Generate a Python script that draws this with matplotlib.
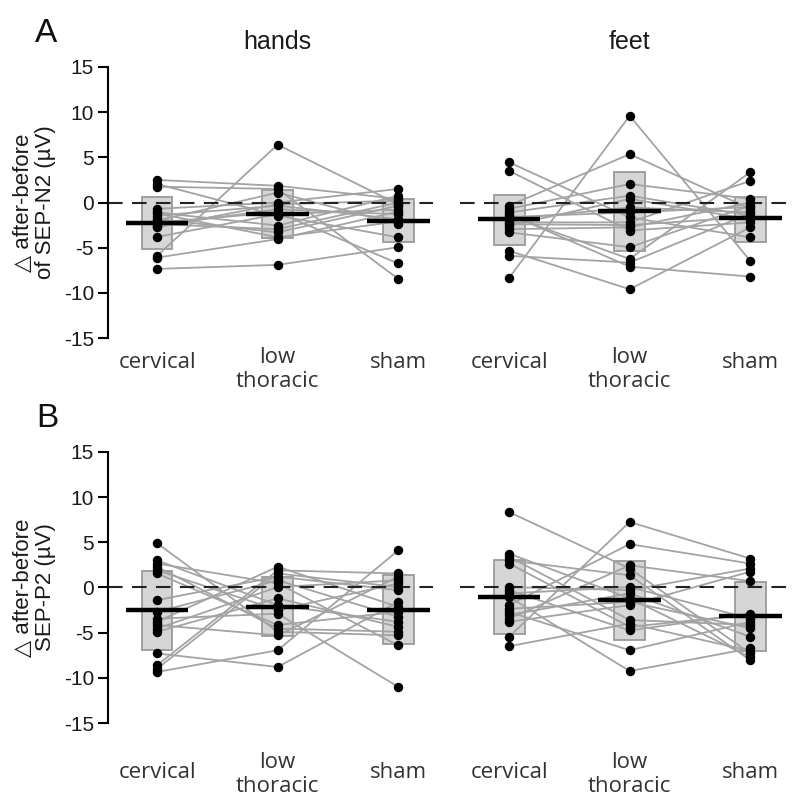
import matplotlib.pyplot as plt
import numpy as np
from matplotlib.patches import Rectangle

plt.rcParams["axes.unicode_minus"] = False

conditions = ["cervical", "low\nthoracic", "sham"]

# A: change of SEP-N2 (after - before, uV), one list per condition, subjects in the same order
a_hands_cervical = [2.5, 2.05, 1.75, -0.7, -1.1, -1.45, -1.85, -2.0, -2.2, -2.4, -2.55, -5.9, -6.1, -7.35, -1.2, -2.75, -3.8]
a_hands_low = [1.85, -1.45, 1.5, 0.0, -2.55, -0.35, -3.3, 1.1, -1.1, -2.95, -0.75, 6.4, -4.05, -6.9, -3.85, -0.2, -1.3]
a_hands_sham = [0.4, -3.85, -8.45, 1.5, 0.75, -1.85, -0.35, -2.4, -6.75, 0.0, -1.3, -0.2, -1.0, -4.95, -2.1, 0.2, -0.8]

a_feet_cervical = [4.45, 3.5, -0.35, -0.7, -1.1, -1.45, -1.85, -2.2, -2.55, -2.95, -3.3, -5.35, -5.9, -8.35, -1.3, -1.6, -2.4]
a_feet_low = [-1.65, -3.1, 5.35, 2.05, 0.75, -6.25, -0.55, -2.2, 0.4, -2.75, -4.95, -9.6, -6.65, 9.6, -7.1, -1.1, -2.5]
a_feet_sham = [-3.85, -2.2, -0.7, 0.4, -1.45, 3.35, -1.1, 2.4, -1.85, 0.0, -0.35, -2.75, -1.2, -6.45, -8.2, -0.5, -1.6]

# B: change of SEP-P2
b_hands_cervical = [4.9, 3.0, 2.65, 2.3, 1.9, 1.55, -1.4, -2.7, -3.45, -3.8, -4.15, -4.55, -4.9, -7.3, -8.6, -9.0, -9.35]
b_hands_low = [-4.9, -1.95, 0.45, -4.55, -2.5, -4.15, 1.2, 0.8, -2.9, 2.3, -5.3, 0.05, -1.2, -8.8, 1.9, 1.55, -6.95]
b_hands_sham = [-5.3, -3.8, -6.4, -4.9, 0.45, -2.7, -0.3, -3.25, -11.0, -2.15, 1.2, 0.8, -4.35, -1.6, 1.55, 0.05, 4.1]

b_feet_cervical = [8.35, 3.75, 3.4, 3.0, 2.65, 0.05, -0.3, -0.65, -1.05, -1.95, -2.35, -2.7, -3.05, -3.45, -3.8, -5.45, -6.5]
b_feet_low = [2.1, -1.2, -3.6, 1.35, -4.35, -0.3, -4.75, 0.05, -9.25, 4.8, -1.6, -6.95, -0.65, 2.45, -1.95, 7.25, -4.0]
b_feet_sham = [-7.3, -7.7, -4.15, -8.05, -3.0, 2.1, -2.9, -3.45, -6.75, 2.65, -4.5, -3.8, -5.45, 0.7, 1.75, 3.2, -7.0]

# group mean and mean +/- SD box
a_hands_mean = [-2.3, -1.28, -2.0]
a_hands_box_low = [-5.15, -3.9, -4.42]
a_hands_box_high = [0.56, 1.38, 0.38]
a_feet_mean = [-1.83, -0.98, -1.75]
a_feet_box_low = [-4.67, -5.41, -4.42]
a_feet_box_high = [0.83, 3.41, 0.57]
b_hands_mean = [-2.51, -2.14, -2.44]
b_hands_box_low = [-6.87, -5.39, -6.2]
b_hands_box_high = [1.84, 1.18, 1.36]
b_feet_mean = [-1.04, -1.33, -3.18]
b_feet_box_low = [-5.17, -5.76, -7.02]
b_feet_box_high = [3.02, 2.91, 0.63]

hands_x = np.array([0.0, 1.0, 2.0])
feet_x = np.array([2.92, 3.92, 4.92])

TICK_FONT = ["Liberation Sans", "DejaVu Sans"]
CAT_FONT = ["Open Sans", "DejaVu Sans"]


def draw_group(ax, xs, values, means, lows, highs):
    values = np.array(values)
    for subj in values.T:
        ax.plot(xs, subj, color="#a3a3a3", lw=1.3, zorder=2)
    for x, m, lo, hi, v in zip(xs, means, lows, highs, values):
        ax.add_patch(Rectangle((x - 0.128, lo), 0.256, hi - lo, facecolor="#d6d6d6",
                               edgecolor="#9a9a9a", lw=1.3, zorder=1))
        ax.plot([x - 0.26, x + 0.26], [m, m], color="black", lw=3.2, solid_capstyle="butt", zorder=4)
        ax.plot(np.full(len(v), x), v, "o", color="black", ms=5.8, zorder=5)


def setup_axis(ax, cat_y, low_y):
    ax.set_xlim(-0.407, 5.25)
    ax.set_ylim(-15, 15)
    for side in ["top", "right", "bottom"]:
        ax.spines[side].set_visible(False)
    ax.spines["left"].set_linewidth(1.5)
    ax.set_xticks([])
    ax.set_yticks([-15, -10, -5, 0, 5, 10, 15])
    ax.tick_params(axis="y", length=7, width=1.5, pad=3, labelsize=15, labelcolor="#1a1a1a")
    for lab in ax.get_yticklabels():
        lab.set_family(TICK_FONT)
    ax.plot([-0.407, 2.29], [0, 0], color="#222222", lw=1.5, dashes=(7, 4.5), zorder=3)
    ax.plot([2.515, 5.23], [0, 0], color="#222222", lw=1.5, dashes=(7, 4.5), zorder=3)
    for xs in (hands_x, feet_x):
        for x, lab in zip(xs, conditions):
            y = low_y if "\n" in lab else cat_y
            ax.text(x, y, lab, ha="center", va="center", fontsize=16, family=CAT_FONT,
                    color="#333333", linespacing=1.2, clip_on=False)


fig = plt.figure(figsize=(8, 8.11), dpi=100)
axA = fig.add_axes([0.135, 0.5832, 0.8525, 0.3342])
axB = fig.add_axes([0.135, 0.1085, 0.8525, 0.3342])

draw_group(axA, hands_x, [a_hands_cervical, a_hands_low, a_hands_sham], a_hands_mean, a_hands_box_low, a_hands_box_high)
draw_group(axA, feet_x, [a_feet_cervical, a_feet_low, a_feet_sham], a_feet_mean, a_feet_box_low, a_feet_box_high)
draw_group(axB, hands_x, [b_hands_cervical, b_hands_low, b_hands_sham], b_hands_mean, b_hands_box_low, b_hands_box_high)
draw_group(axB, feet_x, [b_feet_cervical, b_feet_low, b_feet_sham], b_feet_mean, b_feet_box_low, b_feet_box_high)

setup_axis(axA, -17.66, -18.5)
setup_axis(axB, -20.5, -20.7)

axA.text(hands_x[1], 17.0, "hands", ha="center", va="baseline", fontsize=18, family=TICK_FONT, color="#1a1a1a")
axA.text(feet_x[1], 17.0, "feet", ha="center", va="baseline", fontsize=18, family=TICK_FONT, color="#1a1a1a")

fig.text(0.044, 0.948, "A", fontsize=24, family=TICK_FONT, color="#111111")
fig.text(0.045, 0.4735, "B", fontsize=24, family=TICK_FONT, color="#111111")

fig.text(0.043, 0.7503, "\u25b3 after-before\nof SEP-N2 (\u00b5V)", rotation=90, ha="center", va="center",
         fontsize=16, family=TICK_FONT, color="#1a1a1a", linespacing=1.05)
fig.text(0.043, 0.2756, "\u25b3 after-before\nSEP-P2 (\u00b5V)", rotation=90, ha="center", va="center",
         fontsize=16, family=TICK_FONT, color="#1a1a1a", linespacing=1.05)

fig.savefig("out.png", dpi=100)
